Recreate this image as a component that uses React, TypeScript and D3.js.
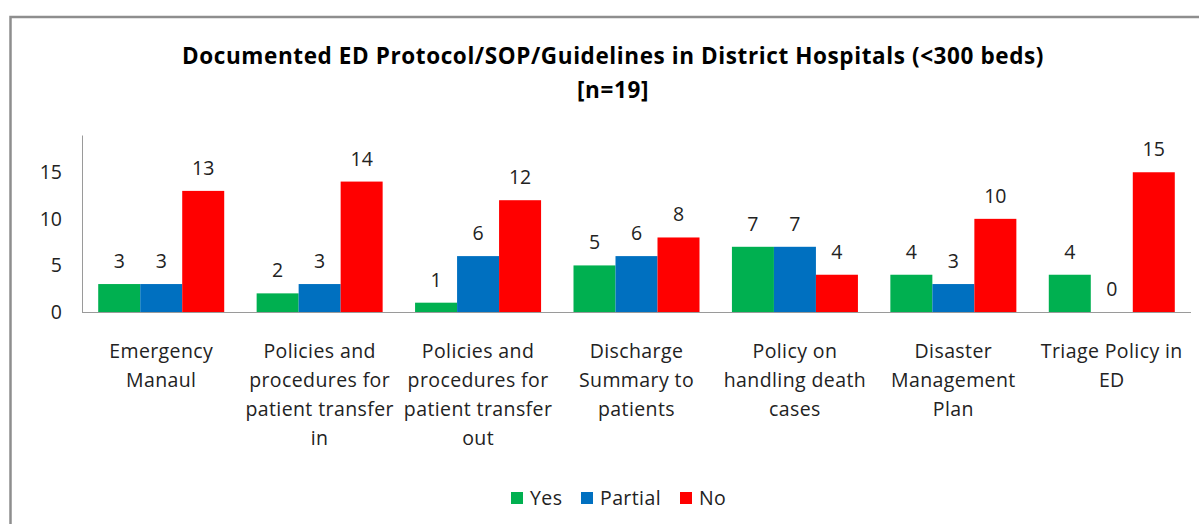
import React, { useEffect, useRef } from "react";
import * as d3 from "d3";

const categories = [
  "Emergency Manaul",
  "Policies and procedures for patient transfer in",
  "Policies and procedures for patient transfer out",
  "Discharge Summary to patients",
  "Policy on handling death cases",
  "Disaster Management Plan",
  "Triage Policy in ED",
];
const categoryLines = [
  ["Emergency", "Manaul"],
  ["Policies and", "procedures for", "patient transfer", "in"],
  ["Policies and", "procedures for", "patient transfer", "out"],
  ["Discharge", "Summary to", "patients"],
  ["Policy on", "handling death", "cases"],
  ["Disaster", "Management", "Plan"],
  ["Triage Policy in", "ED"],
];
const series = ["Yes", "Partial", "No"];
const yesValues = [3, 2, 1, 5, 7, 4, 4];
const partialValues = [3, 3, 6, 6, 7, 3, 0];
const noValues = [13, 14, 12, 8, 4, 10, 15];
const yTicks = [0, 5, 10, 15];
const colors = ["#00B050", "#0070C0", "#FF0000"];
const titleLines = [
  "Documented ED Protocol/SOP/Guidelines in District Hospitals (<300 beds)",
  "[n=19]",
];

const W = 1199;
const H = 524;
const margin = { left: 82, right: 8, top: 135, bottom: 212 };
const FONT = "'Open Sans', Lato, sans-serif";
const FS = 19.5;
const LS = 0.4;

function App() {
  const svgRef = useRef<SVGSVGElement>(null);

  useEffect(() => {
    document.body.style.margin = "0";
    const svg = d3.select(svgRef.current);
    svg.selectAll("*").remove();

    const values = [yesValues, partialValues, noValues];

    // frame
    svg
      .append("rect")
      .attr("x", 10.5)
      .attr("y", 17)
      .attr("width", 1400)
      .attr("height", 800)
      .attr("fill", "white")
      .attr("stroke", "#8e8e8e")
      .attr("stroke-width", 2.5);

    const x0 = d3
      .scaleBand()
      .domain(categories)
      .range([margin.left, W - margin.right]);

    const x1 = d3
      .scaleBand()
      .domain(series)
      .range([0, x0.bandwidth()])
      .paddingOuter(0.386);

    const y = d3
      .scaleLinear()
      .domain([0, 19])
      .range([H - margin.bottom, margin.top]);

    // title
    svg
      .append("g")
      .selectAll("text")
      .data(titleLines)
      .join("text")
      .attr("x", 613)
      .attr("y", (d, i) => 64 + i * 34)
      .attr("text-anchor", "middle")
      .attr("font-family", FONT)
      .attr("font-weight", "bold")
      .attr("font-size", 22.5)
      .attr("letter-spacing", 0.6)
      .attr("fill", "#000")
      .text((d) => d);

    // bars
    const groups = svg
      .append("g")
      .selectAll("g")
      .data(categories)
      .join("g")
      .attr("transform", (d) => `translate(${x0(d)},0)`);

    groups.each(function (cat, ci) {
      const g = d3.select(this);
      series.forEach((s, si) => {
        const v = values[si][ci];
        g.append("rect")
          .attr("x", x1(s))
          .attr("y", y(v))
          .attr("width", x1.bandwidth())
          .attr("height", y(0) - y(v))
          .attr("fill", colors[si]);
        g.append("text")
          .attr("x", x1(s) + x1.bandwidth() / 2)
          .attr("y", y(v) - 16)
          .attr("text-anchor", "middle")
          .attr("font-family", FONT)
          .attr("font-size", FS)
          .attr("fill", "#222")
          .text(v);
      });
    });

    // y axis
    svg
      .append("g")
      .attr("transform", `translate(${margin.left},0)`)
      .call(d3.axisLeft(y).tickValues(yTicks).tickSize(0).tickPadding(20))
      .call((g) => g.select(".domain").attr("stroke", "#9a9a9a"))
      .call((g) =>
        g
          .selectAll("text")
          .attr("font-family", FONT)
          .attr("font-size", FS)
          .attr("fill", "#222")
      );

    // x axis line
    svg
      .append("line")
      .attr("x1", margin.left)
      .attr("x2", W - margin.right)
      .attr("y1", y(0) + 0.5)
      .attr("y2", y(0) + 0.5)
      .attr("stroke", "#9a9a9a");

    // category labels
    svg
      .append("g")
      .selectAll("text")
      .data(categories)
      .join("text")
      .attr("text-anchor", "middle")
      .attr("font-family", FONT)
      .attr("font-size", FS)
      .attr("letter-spacing", LS)
      .attr("fill", "#222")
      .each(function (d, i) {
        const t = d3.select(this);
        categoryLines[i].forEach((line, li) => {
          t.append("tspan")
            .attr("x", x0(d) + x0.bandwidth() / 2)
            .attr("y", 358 + li * 29)
            .text(line);
        });
      });

    // legend
    const legendX = [511, 581, 680];
    const legend = svg.append("g");
    series.forEach((s, i) => {
      legend
        .append("rect")
        .attr("x", legendX[i])
        .attr("y", 492)
        .attr("width", 12)
        .attr("height", 12)
        .attr("fill", colors[i]);
      legend
        .append("text")
        .attr("x", legendX[i] + 19)
        .attr("y", 505)
        .attr("font-family", FONT)
        .attr("font-size", FS)
        .attr("letter-spacing", LS)
        .attr("fill", "#222")
        .text(s);
    });
  }, []);

  return <svg ref={svgRef} width={W} height={H} style={{ display: "block" }}></svg>;
}

export default App;
